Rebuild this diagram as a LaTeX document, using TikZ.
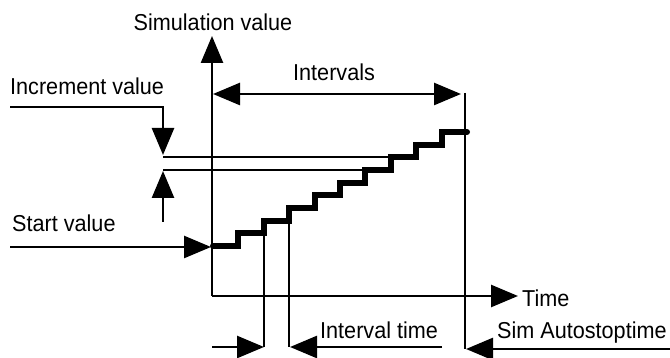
\documentclass[tikz,border=0pt]{standalone}
\usepackage{fontspec}
\setmainfont[FakeStretch=0.94]{Liberation Sans}
\usetikzlibrary{arrows.meta}
\begin{document}
\begin{tikzpicture}[x=1pt,y=-1pt,
  ln/.style={line width=2.6pt},
  arr/.style={ln,-{Triangle[length=27pt,width=22pt]}},
  darr/.style={ln,{Triangle[length=27pt,width=22pt]}-{Triangle[length=27pt,width=22pt]}},
  stair/.style={line width=6pt,line cap=round},
  lbl/.style={inner sep=0pt,anchor=base west,font=\fontsize{23}{26}\selectfont}]
\useasboundingbox (0,0) rectangle (670,358);
% coordinates
\coordinate (O) at (212,296);
\coordinate (Ytop) at (212,36);
\coordinate (Xend) at (518,296);
\coordinate (s0) at (10,247);
\coordinate (s1) at (211,247);
\coordinate (i0) at (213,94);
\coordinate (i1) at (461,94);
\coordinate (v0) at (465,93);
\coordinate (v1) at (465,349);
\coordinate (c0) at (10,107);
\coordinate (c1) at (163,107);
\coordinate (c2) at (163,155);
\coordinate (h0) at (163,157);
\coordinate (h1) at (391,157);
\coordinate (g0) at (163,170);
\coordinate (g1) at (366,170);
\coordinate (u0) at (163,222);
\coordinate (u1) at (163,171);
\coordinate (a0) at (264,233);
\coordinate (a1) at (264,347);
\coordinate (b0) at (289,221);
\coordinate (b1) at (289,347);
\coordinate (l0) at (212,347);
\coordinate (r0) at (442,347);
\coordinate (r1) at (290,347);
\coordinate (e0) at (670,349);
\coordinate (e1) at (466,349);
% labels
\node[lbl,anchor=base] (simv) at (213,31) {Simulation value};
\node[lbl] (incv) at (10,95) {Increment value};
\node[lbl] (intv) at (293,81) {Intervals};
\node[lbl] (startv) at (12,232) {Start value};
\node[lbl] (time) at (522,307) {Time};
\node[lbl] (itime) at (320,339) {Interval time};
\node[lbl] (sas) at (497,339) {Sim Autostoptime};
% axes
\draw[arr] (O) -- (Ytop);
\draw[arr] (O) -- (Xend);
% staircase
\draw[stair] (213,246) \foreach \k in {1,...,9} { -- ++(25.4,0) -- ++(0,-12.667) } -- ++(25.4,0);
% connectors
\draw[arr] (s0) -- (s1);
\draw[darr] (i0) -- (i1);
\draw[ln] (v0) -- (v1);
\draw[arr] (c0) -- (c1) -- (c2);
\draw[ln] (h0) -- (h1);
\draw[ln] (g0) -- (g1);
\draw[arr] (u0) -- (u1);
\draw[ln] (a0) -- (a1);
\draw[ln] (b0) -- (b1);
\draw[arr] (l0) -- (a1);
\draw[arr] (r0) -- (r1);
\draw[arr] (e0) -- (e1);
\end{tikzpicture}
\end{document}
